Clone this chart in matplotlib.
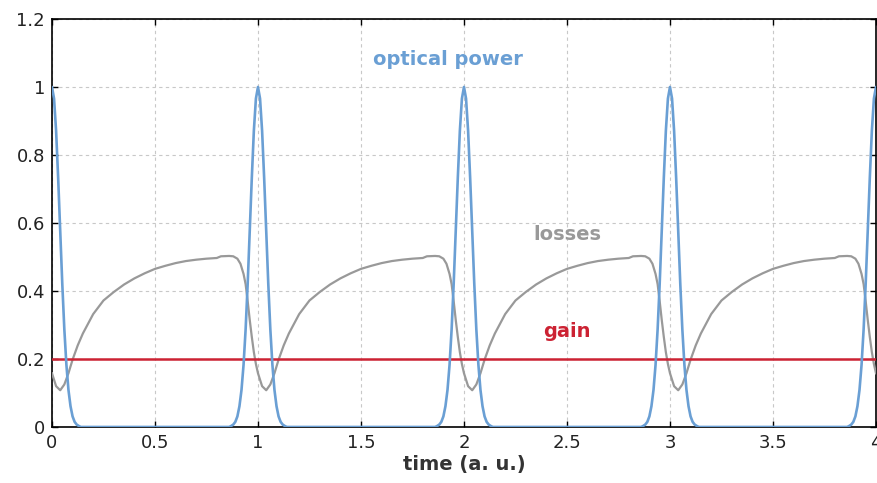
import numpy as np
import matplotlib
matplotlib.use("Agg")
import matplotlib.pyplot as plt
from matplotlib.ticker import FuncFormatter

# pulse centres (a. u.) and one pulse
pulse_centres = [0, 1, 2, 3, 4]
pulse_dt = [-0.14, -0.13, -0.12, -0.11, -0.10, -0.09, -0.08, -0.07, -0.06, -0.05,
            -0.04, -0.03, -0.02, -0.01, 0.0, 0.01, 0.02, 0.03, 0.04, 0.05, 0.06,
            0.07, 0.08, 0.09, 0.10, 0.11, 0.12, 0.13, 0.14]
pulse_p = [0.0, 0.003, 0.007, 0.015, 0.031, 0.061, 0.109, 0.183, 0.287, 0.421,
           0.575, 0.732, 0.871, 0.966, 1.0, 0.966, 0.871, 0.732, 0.575, 0.421, 0.287,
           0.183, 0.109, 0.061, 0.031, 0.015, 0.007, 0.003, 0.0]

# losses over one round trip (offset from period start)
period_starts = [0, 1, 2, 3]
loss_dt = [0.00, 0.02, 0.04, 0.06, 0.08, 0.10, 0.125, 0.15, 0.20, 0.25, 0.30,
           0.35, 0.40, 0.45, 0.50, 0.55, 0.60, 0.65, 0.70, 0.75, 0.80, 0.82,
           0.86, 0.88, 0.90, 0.915, 0.93, 0.94, 0.95, 0.96, 0.97, 0.98, 0.99]
loss_v = [0.158, 0.120, 0.108, 0.125, 0.158, 0.198, 0.240, 0.275, 0.332, 0.372,
          0.397, 0.419, 0.437, 0.452, 0.465, 0.474, 0.482, 0.488, 0.492, 0.495,
          0.497, 0.502, 0.503, 0.502, 0.495, 0.480, 0.450, 0.420, 0.370, 0.315,
          0.265, 0.220, 0.185]
loss_end = (4.0, 0.158)

gain = 0.2

# build series
t_pow = []
p_pow = []
for c in pulse_centres:
    t_pow += [c + d for d in pulse_dt]
    p_pow += pulse_p

t_loss = []
v_loss = []
for s in period_starts:
    t_loss += [s + d for d in loss_dt]
    v_loss += loss_v
t_loss.append(loss_end[0])
v_loss.append(loss_end[1])

blue = '#6a9fd4'
grey = '#999999'
red = '#cc2233'

fig = plt.figure(figsize=(8.78, 4.83), dpi=100)
ax = fig.add_axes([0.0592, 0.116, 0.9385, 0.8447])

ax.plot(t_loss, v_loss, color=grey, lw=1.6, zorder=3)
ax.axhline(gain, color=red, lw=1.8, zorder=4)
ax.plot(t_pow, p_pow, color=blue, lw=1.9, zorder=5)

ax.set_xlim(0, 4)
ax.set_ylim(0, 1.2)
ax.set_xticks(np.arange(0, 4.01, 0.5))
ax.set_yticks(np.arange(0, 1.21, 0.2))
fmt = FuncFormatter(lambda v, p: '%g' % round(v, 2))
ax.xaxis.set_major_formatter(fmt)
ax.yaxis.set_major_formatter(fmt)
ax.tick_params(direction='in', length=4, width=1, top=True, right=True,
               labelsize=13, labelcolor='#222222', pad=5)
ax.grid(True, color='#c8c8c8', linestyle=(0, (3, 3)), lw=0.8)
for sp in ax.spines.values():
    sp.set_linewidth(1.2)

ax.set_xlabel('time (a. u.)', fontsize=14, fontweight='bold', color='#333333', labelpad=2)

ax.text(1.92, 1.08, 'optical power', color=blue, fontsize=14, fontweight='bold', ha='center', va='center')
ax.text(2.5, 0.565, 'losses', color=grey, fontsize=14, fontweight='bold', ha='center', va='center')
ax.text(2.5, 0.28, 'gain', color=red, fontsize=14, fontweight='bold', ha='center', va='center')

fig.savefig('out.png', dpi=100)
